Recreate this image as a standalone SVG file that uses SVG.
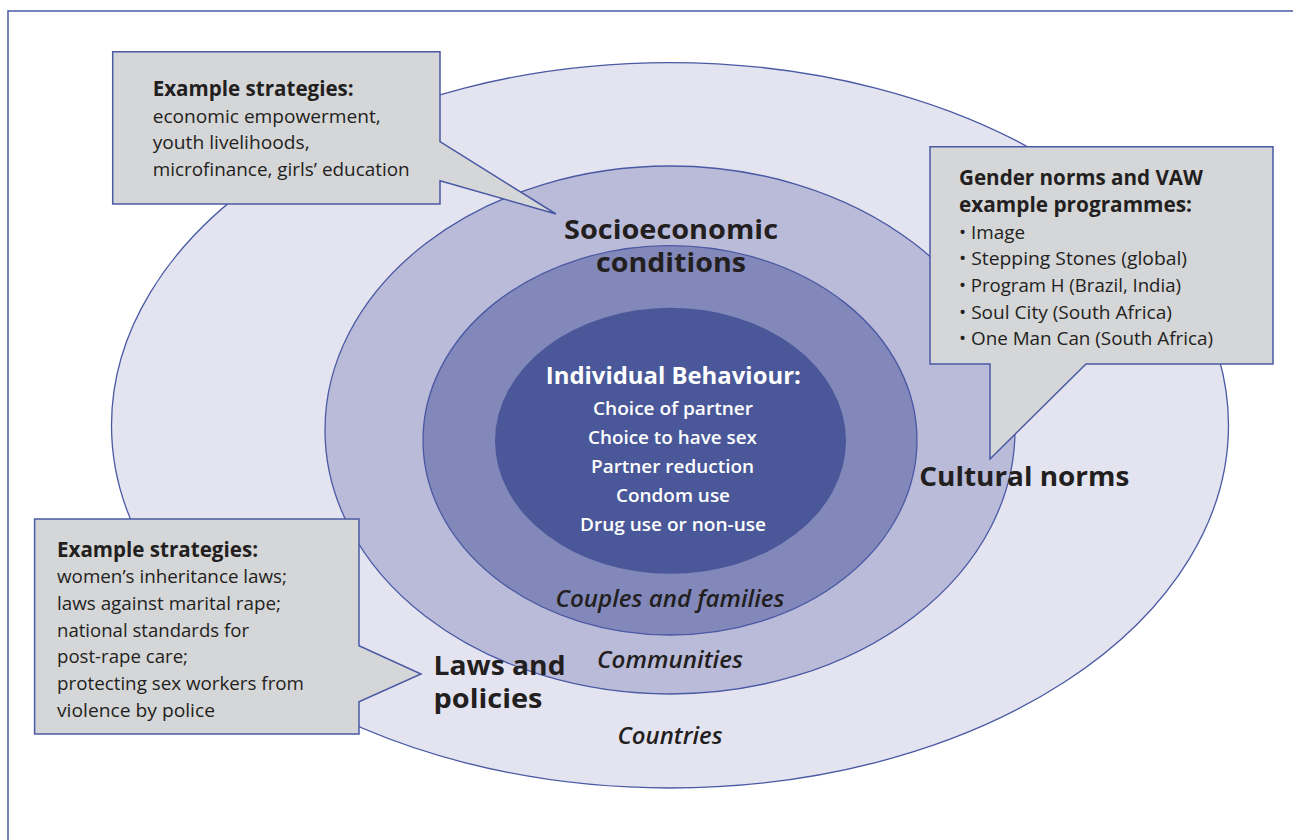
<svg xmlns="http://www.w3.org/2000/svg" width="1293" height="840" viewBox="0 0 1293 840">
<style>
.ring{stroke:#4a59a3;stroke-width:1.3}
.call{fill:#d5d6d8;stroke:#4a59a3;stroke-width:1.5;stroke-linejoin:miter}
text{font-family:"Open Sans","Noto Sans","Liberation Sans",sans-serif;fill:#231f20}
.t{font-size:21.5px;font-weight:700}
.b{font-size:19px;font-weight:400}
.big{font-size:27px;font-weight:700}
.it{font-size:23px;font-weight:600;font-style:italic}
.ct{font-size:23px;font-weight:700;fill:#ffffff;text-anchor:middle}
.cl{font-size:18.5px;font-weight:600;fill:#ffffff;text-anchor:middle}
.m{text-anchor:middle}
</style>
<rect x="0" y="0" width="1293" height="840" fill="#ffffff"/>
<rect id="frame" x="8" y="11" width="1300" height="850" fill="none" stroke="#4a59a3" stroke-width="1.5"/>
<g id="rings">
<ellipse id="countries" class="ring" cx="670" cy="425.3" rx="558.5" ry="362.7" fill="#e4e4f1"/>
<ellipse id="communities" class="ring" cx="670" cy="430" rx="345" ry="264" fill="#babbd9"/>
<ellipse id="couples" class="ring" cx="670" cy="440.3" rx="247" ry="194.7" fill="#8288b9"/>
<ellipse id="individual" cx="670.5" cy="440.8" rx="175.5" ry="133" fill="#4a5899"/>
</g>
<g id="ring-labels">
<text class="it m" x="670" y="606.7" textLength="229" lengthAdjust="spacingAndGlyphs">Couples and families</text>
<text class="it m" x="670" y="668" textLength="146" lengthAdjust="spacingAndGlyphs">Communities</text>
<text class="it m" x="670" y="744" textLength="105" lengthAdjust="spacingAndGlyphs">Countries</text>
</g>
<g id="individual-text">
<text class="ct" x="673.3" y="384.3" textLength="255" lengthAdjust="spacingAndGlyphs">Individual Behaviour:</text>
<text class="cl" x="673" y="415" textLength="160" lengthAdjust="spacingAndGlyphs">Choice of partner</text>
<text class="cl" x="672.5" y="443.5" textLength="169" lengthAdjust="spacingAndGlyphs">Choice to have sex</text>
<text class="cl" x="672.5" y="472.5" textLength="163" lengthAdjust="spacingAndGlyphs">Partner reduction</text>
<text class="cl" x="673" y="501.5" textLength="114" lengthAdjust="spacingAndGlyphs">Condom use</text>
<text class="cl" x="673" y="530.5" textLength="186" lengthAdjust="spacingAndGlyphs">Drug use or non-use</text>
</g>
<g id="callout-socioeconomic">
<path class="call" d="M112.7,51.7 H440 V141.7 L556,214 L440,180.7 V204 H112.7 Z"/>
<text class="t" x="152.7" y="96" textLength="201" lengthAdjust="spacingAndGlyphs">Example strategies:</text>
<text class="b" x="152.7" y="122.7" textLength="228" lengthAdjust="spacingAndGlyphs">economic empowerment,</text>
<text class="b" x="152.7" y="149.3" textLength="157" lengthAdjust="spacingAndGlyphs">youth livelihoods,</text>
<text class="b" x="152.7" y="176" textLength="257" lengthAdjust="spacingAndGlyphs">microfinance, girls’ education</text>
</g>
<g id="callout-cultural">
<path class="call" d="M930,146.7 H1273 V364 H1086 L990,459 V364 H930 Z"/>
<text class="t" x="959" y="185" textLength="244" lengthAdjust="spacingAndGlyphs">Gender norms and VAW</text>
<text class="t" x="959" y="211.7" textLength="233" lengthAdjust="spacingAndGlyphs">example programmes:</text>
<text class="b" x="959" y="238.5" textLength="66" lengthAdjust="spacingAndGlyphs">• Image</text>
<text class="b" x="959" y="265.2" textLength="228" lengthAdjust="spacingAndGlyphs">• Stepping Stones (global)</text>
<text class="b" x="959" y="291.9" textLength="222" lengthAdjust="spacingAndGlyphs">• Program H (Brazil, India)</text>
<text class="b" x="959" y="318.6" textLength="213" lengthAdjust="spacingAndGlyphs">• Soul City (South Africa)</text>
<text class="b" x="959" y="345.3" textLength="254" lengthAdjust="spacingAndGlyphs">• One Man Can (South Africa)</text>
</g>
<g id="callout-laws">
<path class="call" d="M34.6,519 H359 V645.7 L421,674 L359,701.7 V734 H34.6 Z"/>
<text class="t" x="57" y="556.5" textLength="201" lengthAdjust="spacingAndGlyphs">Example strategies:</text>
<text class="b" x="57" y="583.2" textLength="230" lengthAdjust="spacingAndGlyphs">women’s inheritance laws;</text>
<text class="b" x="57" y="609.9" textLength="224" lengthAdjust="spacingAndGlyphs">laws against marital rape;</text>
<text class="b" x="57" y="636.6" textLength="192" lengthAdjust="spacingAndGlyphs">national standards for</text>
<text class="b" x="57" y="663.3" textLength="131" lengthAdjust="spacingAndGlyphs">post-rape care;</text>
<text class="b" x="57" y="690" textLength="247" lengthAdjust="spacingAndGlyphs">protecting sex workers from</text>
<text class="b" x="57" y="716.7" textLength="158" lengthAdjust="spacingAndGlyphs">violence by police</text>
</g>
<g id="domain-labels">
<text class="big m" x="671" y="239" textLength="214" lengthAdjust="spacingAndGlyphs">Socioeconomic</text>
<text class="big m" x="671" y="272" textLength="150" lengthAdjust="spacingAndGlyphs">conditions</text>
<text class="big" x="919.3" y="486" textLength="210" lengthAdjust="spacingAndGlyphs">Cultural norms</text>
<text class="big" x="433.5" y="675" textLength="132" lengthAdjust="spacingAndGlyphs">Laws and</text>
<text class="big" x="433.5" y="708" textLength="109" lengthAdjust="spacingAndGlyphs">policies</text>
</g>
<g id="connectors"></g>
</svg>
